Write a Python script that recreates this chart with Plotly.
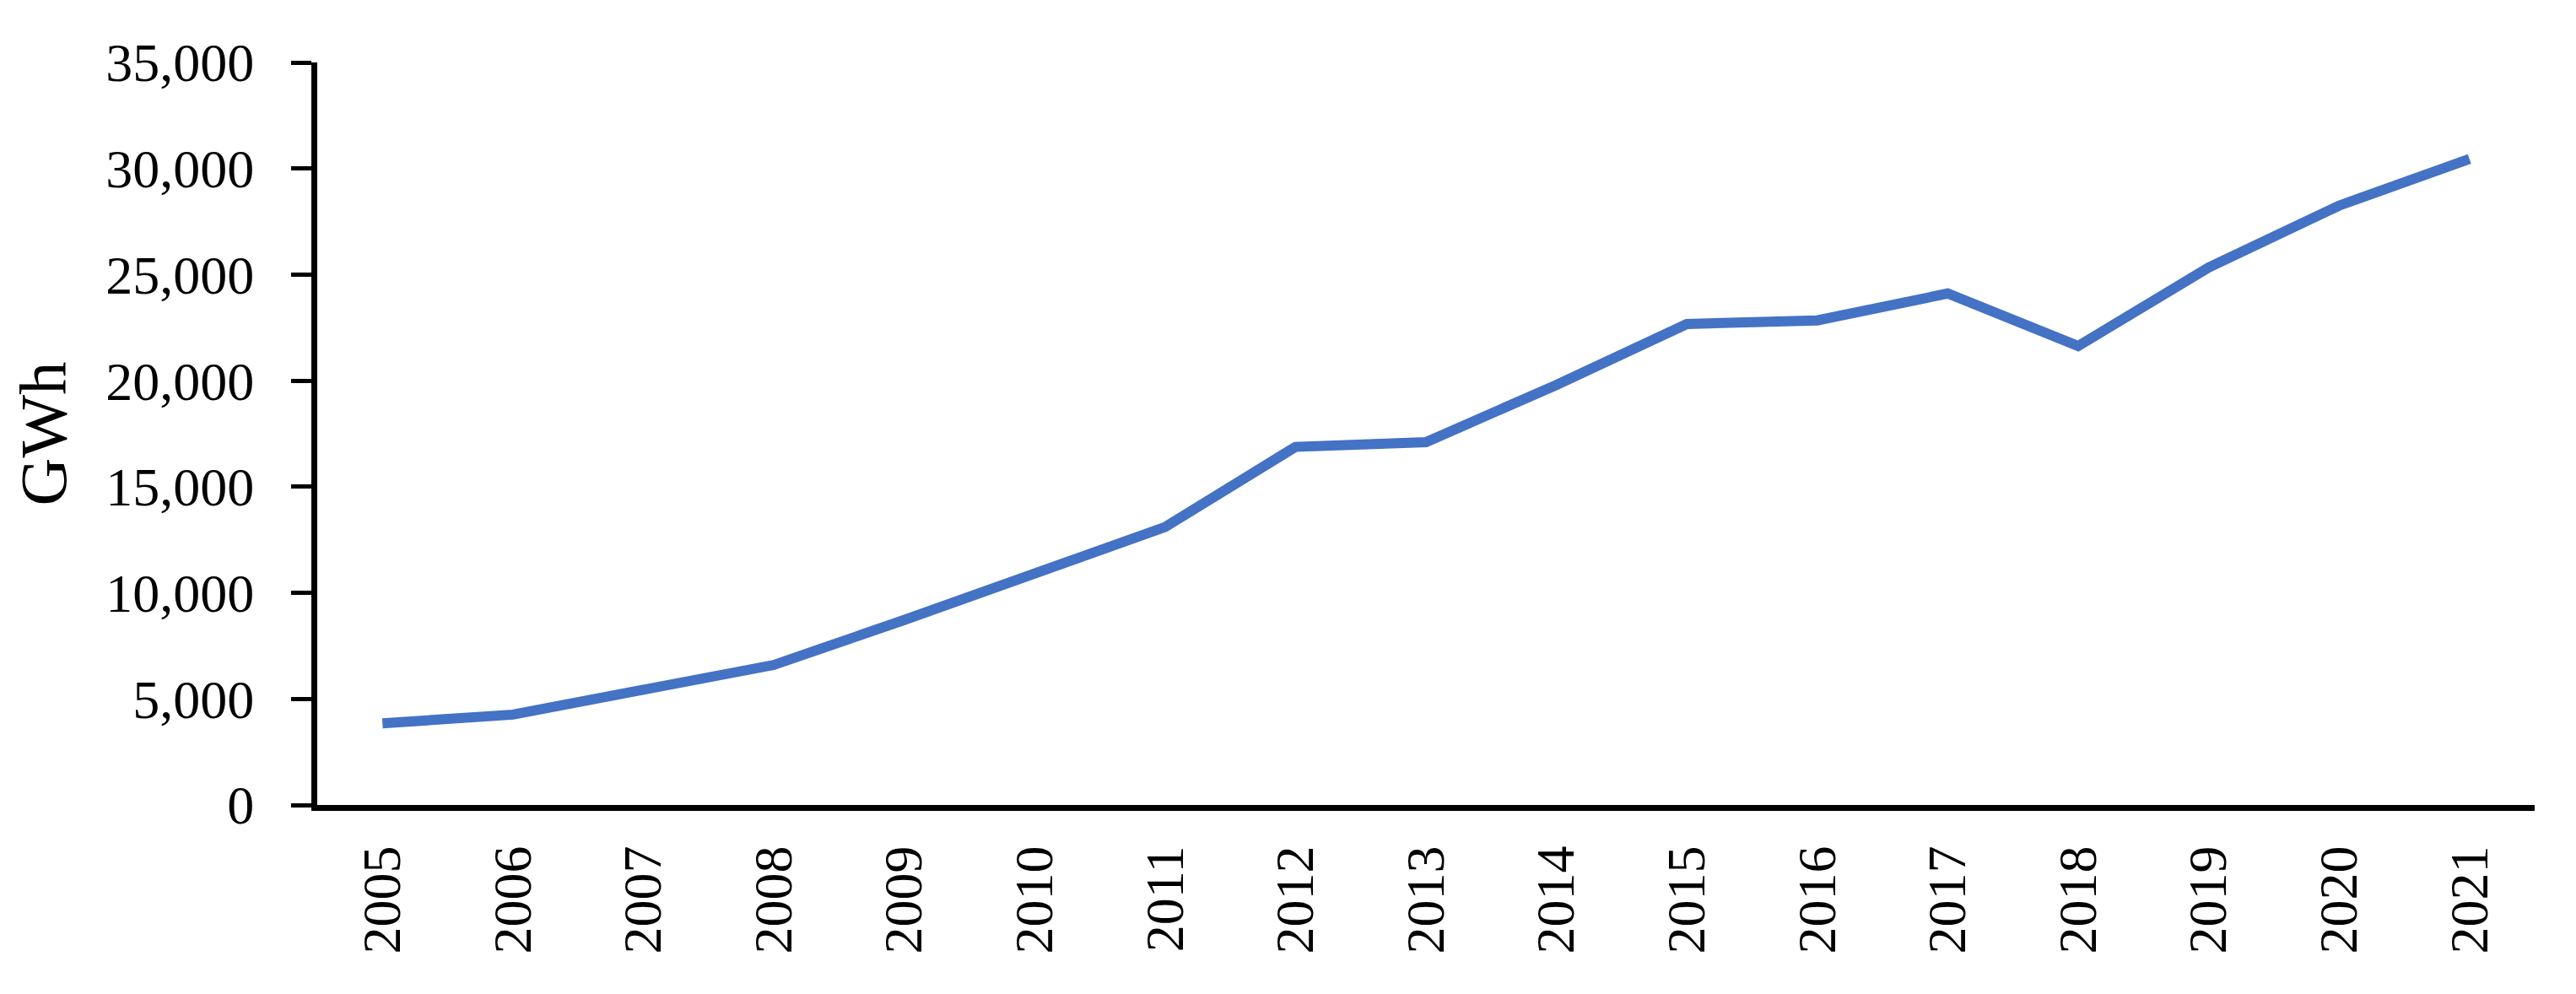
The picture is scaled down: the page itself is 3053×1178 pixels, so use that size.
import plotly.graph_objects as go

years = [str(y) for y in range(2005, 2022)]
gwh = [3850, 4260, 5430, 6600, 8720, 10910, 13100, 16880, 17100,
       19800, 22670, 22840, 24110, 21630, 25330, 28250, 30450]
y_ticks = [0, 5000, 10000, 15000, 20000, 25000, 30000, 35000]
y_labels = ["0", "5,000", "10,000", "15,000", "20,000", "25,000", "30,000", "35,000"]

FONT = "Liberation Serif"

fig = go.Figure()
fig.add_trace(go.Scatter(
    x=years, y=gwh, mode="lines",
    line=dict(color="#4472C4", width=12),
    showlegend=False,
))

# page body has an 8px default margin, so the figure is 8px smaller
fig.update_layout(
    width=3045, height=1170,
    paper_bgcolor="white", plot_bgcolor="white",
    margin=dict(l=368, r=49, t=66, b=224),
    font=dict(family=FONT, size=64, color="black"),
)
fig.update_xaxes(
    type="category", range=[-0.5, 16.5], automargin=False,
    showline=True, linecolor="black", linewidth=7,
    showgrid=False, ticks="", tickangle=-90,
    ticklabelstandoff=16,
    tickfont=dict(family=FONT, size=64, color="black"),
)
fig.update_yaxes(
    range=[0, 35000], tickvals=y_ticks, ticktext=y_labels, automargin=False,
    showline=True, linecolor="black", linewidth=7,
    showgrid=False, zeroline=False,
    ticks="outside", ticklen=24, tickwidth=5, tickcolor="black",
    ticklabelstandoff=31,
    tickfont=dict(family=FONT, size=64, color="black"),
    title=dict(text="GWh", font=dict(family=FONT, size=79, color="black"), standoff=49),
)

fig.write_html("out.html")
